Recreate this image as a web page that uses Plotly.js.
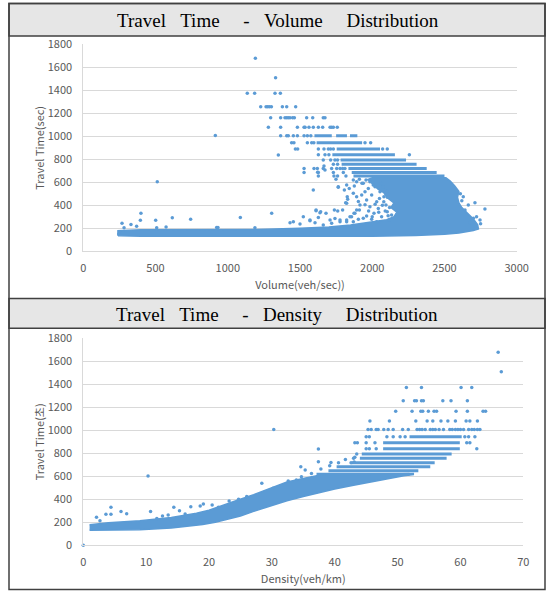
<!DOCTYPE html>
<html>
<head>
<meta charset="utf-8">
<script src="https://cdn.plot.ly/plotly-3.0.1.min.js"></script>
<style>html,body{margin:0;padding:0;background:#fff;}#chart{width:547px;height:591px;}</style>
</head>
<body>
<div id="chart"></div>
<script>
// ---------- Travel Time - Volume ----------
const volTicks = [0, 500, 1000, 1500, 2000, 2500, 3000];
const ttTicks = [0, 200, 400, 600, 800, 1000, 1200, 1400, 1600, 1800];

// dense cloud outline (volume, travel time)
const volCloudX = [240,240,400,800,1200,1500,1700,1850,2000,2100,2150,2170,2130,2150,2100,2080,2040,2010,1970,2000,2510,2540,2570,2600,2590,2600,2620,2660,2700,2730,2735,2700,2600,2500,2300,2000,1500,800,400,240];
const volCloudY = [135,180,188,188,190,200,212,228,255,275,300,340,380,420,470,510,540,580,625,640,640,610,570,520,470,420,380,330,280,230,195,180,160,148,138,130,128,128,130,135];

// dense horizontal rows of points
const volRowTT = [1005,1005,1005,945,890,840,795,756,720,685,655];
const volRowX0 = [1600,1750,1846,1615,1754,1724,1781,1788,1835,1858,1870];
const volRowX1 = [1720,1825,1897,1930,2054,2157,2234,2307,2377,2446,2500];

// individual points
const volPtsX = [1191,1331,1135,1186,1327,1364,1228,1265,1276,1288,1302,1378,1408,1470,
 1297,1366,1396,1408,1419,1431,1449,1461,1546,1588,1661,1673,
 1281,1366,1482,1528,1535,1562,1592,1627,1657,1708,1719,1731,1758,
 1366,1408,1419,1454,1482,1528,1551,1575,
 1442,1458,1551,1581,1596,1950,1989,
 1468,1484,1627,1666,1696,1712,1731,2072,2104,
 1350,1627,1673,1700,2257,
 1661,1712,1742,1760,1731,1760,
 1528,1597,1620,1661,1719,1754,1777,1795,1811,
 1528,1627,1731,1800,1622,1627,1735,1818,1760,
 1749,1765,1823,1827,1816,1592,1666,1673,
 914,512,399,395,501,616,743,268,330,282,369,573,508,923,932,1087,1304,1188,250,245,
 1431,1454,1523,1500,1569,1611,1638,1680,1604,1708,1742,1777,1823,1857,1874,1892,
 1611,1643,1627,1569,1738,1761,1795,1807,1765,1830,1823,1841,1869,1876,1892,1904,1915,1911,1880,1846,
 1938,1950,1961,1973,1984,1996,2012,2019,2031,2042,2054,2065,2081,2095,2104,2118,2134,
 1938,1961,1996,2031,1777,1823,1719,1661,1869,1904,1927,1892,1911,1929,1984,1957,2007,1869,
 2050,2070,2090,2110,2060,2080,2100,2120,2045,2075,2105,2020,2000,1975,1950,
 2780,2711,2665,2746,2700,2642,2630,2722,2750,2680,2620,2610];
const volPtsY = [1678,1510,1374,1374,1374,1374,1258,1258,1258,1258,1258,1258,1258,1258,
 1162,1162,1162,1162,1162,1162,1162,1162,1162,1162,1162,1162,
 1078,1078,1078,1078,1078,1078,1078,1078,1078,1078,1078,1078,1078,
 1005,1005,1005,1005,1005,1005,1005,1005,
 945,945,945,945,945,945,945,
 890,890,890,890,890,890,890,890,890,
 837,840,840,840,840,
 795,795,795,795,756,756,
 720,720,720,720,720,720,720,720,720,
 685,685,685,685,687,655,655,655,655,
 626,562,576,475,423,533,742,707,
 1008,605,330,269,269,292,278,243,234,205,217,211,205,208,208,295,330,205,170,150,
 249,258,301,237,272,353,336,330,249,272,286,258,272,301,330,359,
 359,345,295,266,359,350,359,533,556,452,417,547,504,568,475,432,402,359,330,301,
 591,518,446,547,388,489,330,562,431,373,518,301,475,402,344,272,315,
 287,307,278,258,272,258,243,229,258,278,489,605,626,591,605,620,576,620,
 460,400,350,310,590,430,520,380,340,560,470,410,300,350,405,
 368,423,403,272,287,359,475,301,240,250,440,500];

// ---------- Travel Time - Density ----------
const denTicks = [0, 10, 20, 30, 40, 50, 60, 70];

const denBandX = [1.0,4,9,14,17,19,21,23,25,27.1,30,32.4,35,37.7,40,43,45.5,48.3,51,52.5,52.5,45,38,37.7,35,32.4,29.7,27.1,24.4,22,20,18,16,14,9,4,1.0];
const denBandY = [130,130,136,150,165,180,200,225,255,295,345,388,425,462,490,522,550,580,605,615,625,615,615,611,582,550,495,440,390,340,305,278,258,242,214,197,178];

const denRowTT = [944,892,840,794,756,718,683,649,617];
const denRowX0 = [51.9,47.7,47.7,44.3,44.0,42.7,40.3,39.0,37.1];
const denRowX1 = [60.2,59.9,59.9,58.6,57.8,55.9,55.2,53.3,51.9];

const denPtsX = [0,66.0,66.5,30.3,10.3,37.4,
 51.4,53.8,60.1,61.8,
 50.9,52.7,53.0,53.8,54.1,57.2,58.5,61.1,
 49.7,52.3,53.7,54.0,54.9,55.8,56.2,59.3,61.1,63.6,64.0,
 45.6,48.7,52.9,54.7,55.6,56.9,58.0,59.2,60.9,61.5,62.7,
 45.3,45.8,46.6,46.9,47.8,48.5,49.3,50.8,51.7,53.1,53.5,53.9,54.4,55.2,55.6,56.0,56.6,57.3,58.3,58.7,59.2,59.6,60.0,60.5,61.3,61.8,62.2,62.7,63.1,
 45.0,45.5,48.3,49.3,50.4,51.2,60.7,61.3,62.3,
 43.2,43.6,45.0,46.4,61.0,61.5,
 45.0,45.5,46.6,62.6,43.5,43.0,
 34.6,35.3,36.3,37.4,37.8,39.2,40.6,41.7,42.6,43.1,43.2,39.4,28.4,30.2,32.6,33.9,34.7,
 2.1,2.65,3.6,4.4,4.4,6.0,6.9,10.7,11.7,12.6,13.5,14.4,15.3,16.2,17.1,18.6,19.1,20.5,23.2,24.7,26.0,21.5];
const denPtsY = [0,1678,1510,1008,603,837,
 1373,1373,1373,1373,
 1257,1257,1257,1257,1257,1257,1257,1257,
 1165,1165,1165,1165,1165,1165,1165,1165,1165,1165,1165,
 1081,1081,1081,1081,1081,1081,1081,1081,1081,1081,1081,
 1008,1008,1008,1008,1008,1008,1008,1008,1008,1008,1008,1008,1008,1008,1008,1008,1008,1008,1008,1008,1008,1008,1008,1008,1008,1008,1008,1008,1008,
 944,944,944,944,944,944,944,944,944,
 892,892,892,892,892,892,
 840,840,840,840,794,756,
 684,655,625,727,663,692,718,747,718,725,765,721,539,495,559,568,597,
 243,214,269,330,269,295,275,295,234,255,263,330,301,272,336,342,359,350,385,400,425,330];

// ---------- drawing ----------
const BLUE = '#5B9BD5';
function rows(tt, x0, x1, xa, ya) {
  const x = [], y = [];
  for (let i = 0; i < tt.length; i++) { x.push(x0[i], x1[i], null); y.push(tt[i], tt[i], null); }
  return {type:'scatter', mode:'lines', x:x, y:y, xaxis:xa, yaxis:ya, line:{color:BLUE, width:3}, hoverinfo:'skip', showlegend:false};
}
function cloud(xs, ys, xa, ya) {
  return {type:'scatter', mode:'lines', x:xs, y:ys, xaxis:xa, yaxis:ya, fill:'toself', fillcolor:BLUE, line:{color:BLUE, width:1.5}, hoverinfo:'skip', showlegend:false};
}
function pts(xs, ys, xa, ya) {
  return {type:'scatter', mode:'markers', x:xs, y:ys, xaxis:xa, yaxis:ya, marker:{color:BLUE, size:3.5}, cliponaxis:false, hoverinfo:'skip', showlegend:false};
}

const data = [
  cloud(volCloudX, volCloudY, 'x', 'y'),
  rows(volRowTT, volRowX0, volRowX1, 'x', 'y'),
  pts(volPtsX, volPtsY, 'x', 'y'),
  cloud(denBandX, denBandY, 'x2', 'y2'),
  rows(denRowTT, denRowX0, denRowX1, 'x2', 'y2'),
  pts(denPtsX, denPtsY, 'x2', 'y2')
];

const W = 547, H = 591;
const px = v => v / W, py = v => 1 - v / H;
const SANS = '"Noto Sans CJK KR", "Noto Sans", sans-serif';
const tickFont = {family: SANS, size: 11, color: '#595959'};
const titleFont = {family: SANS, size: 11, color: '#595959'};

function xax(dom, range, ticks, title, anchor) {
  return {domain: dom, range: range, tickvals: ticks, ticktext: ticks.map(String), showgrid:false, zeroline:false,
    showline:true, linecolor:'#D9D9D9', linewidth:1, ticks:'', tickfont:tickFont, ticklabelstandoff:6,
    title:{text:title, font:titleFont, standoff:7}, anchor:anchor, fixedrange:true};
}
function yax(dom, ticks, title, anchor) {
  return {domain: dom, range:[0,1800], tickvals: ticks, ticktext: ticks.map(String), showgrid:true, gridcolor:'#D9D9D9', gridwidth:1,
    zeroline:false, showline:true, linecolor:'#D9D9D9', linewidth:1, ticks:'', tickfont:tickFont, ticklabelstandoff:8,
    title:{text:title, font:titleFont, standoff:0}, anchor:anchor, fixedrange:true};
}

const NB = '\u00a0';
const sp = n => NB.repeat(n);
const TFONT = {family:'"Liberation Serif", "Times New Roman", serif', size:19, color:'#000'};

const layout = {
  width: W, height: H, margin:{l:0, r:0, t:0, b:0},
  paper_bgcolor:'#fff', plot_bgcolor:'#fff', showlegend:false, hovermode:false,
  xaxis: xax([px(83.3), px(516.7)], [0,3000], volTicks, 'Volume(veh/sec))', 'y'),
  yaxis: yax([py(251.3), py(44.3)], ttTicks, 'Travel Time(sec)', 'x'),
  xaxis2: xax([px(83.3), px(523.3)], [0,70], denTicks, 'Density(veh/km)', 'y2'),
  yaxis2: yax([py(545.3), py(338.3)], ttTicks, 'Travel Time(초)', 'x2'),
  shapes: [
    {type:'rect', xref:'paper', yref:'paper', x0:px(9), x1:px(545), y0:py(3.5), y1:py(36), fillcolor:'#E6E6E6', line:{color:'#404040', width:1.5}, layer:'below'},
    {type:'rect', xref:'paper', yref:'paper', x0:px(9), x1:px(545), y0:py(298.5), y1:py(328.3), fillcolor:'#E6E6E6', line:{color:'#404040', width:1.5}, layer:'below'},
    {type:'rect', xref:'paper', yref:'paper', x0:px(9), x1:px(545), y0:py(3.5), y1:py(589.5), fillcolor:'rgba(0,0,0,0)', line:{color:'#404040', width:1.5}}
  ],
  annotations: [
    {xref:'paper', yref:'paper', x:px(278), y:py(21), xanchor:'center', yanchor:'middle', showarrow:false, font:TFONT,
     text:'Travel'+sp(3)+'Time'+sp(5)+'-'+sp(3)+'Volume'+sp(5)+'Distribution'},
    {xref:'paper', yref:'paper', x:px(277), y:py(314.5), xanchor:'center', yanchor:'middle', showarrow:false, font:TFONT,
     text:'Travel'+sp(3)+'Time'+sp(5)+'-'+sp(3)+'Density'+sp(5)+'Distribution'}
  ]
};

Plotly.newPlot('chart', data, layout, {staticPlot:true, displayModeBar:false});
</script>
</body>
</html>
